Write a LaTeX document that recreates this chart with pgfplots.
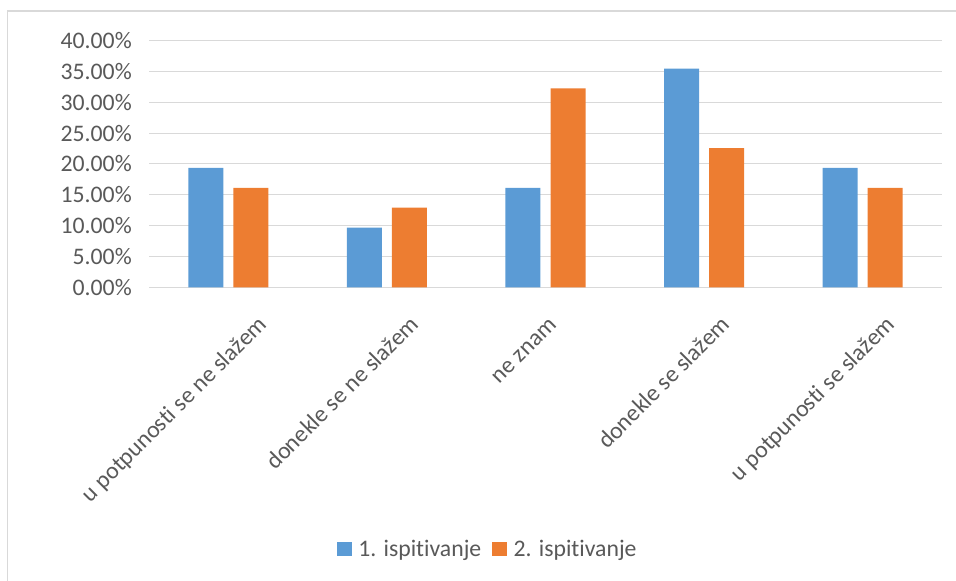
\documentclass[border=0pt]{standalone}
\usepackage{pgfplots}
\pgfplotsset{compat=1.18}
\usepackage{fontspec}
\setmainfont[Ligatures={NoCommon}]{Carlito}
\definecolor{cblue}{HTML}{5B9BD5}
\definecolor{corange}{HTML}{ED7D31}
\definecolor{cgrid}{HTML}{D9D9D9}
\definecolor{ctext}{HTML}{595959}
\newcommand\lbl{\fontsize{17.8pt}{21pt}\selectfont}
\begin{document}
\begin{tikzpicture}
\useasboundingbox (0,0) rectangle (717pt,435.75pt);
\draw[cgrid, line width=1.1pt] (5.6pt,-10pt) -- (5.6pt,427.5pt) -- (730pt,427.5pt);
\begin{axis}[
  at={(111.75pt,220.3pt)}, anchor=south west,
  scale only axis, width=594.75pt, height=184.95pt,
  ybar, bar width=26.25pt,
  xmin=-0.5, xmax=4.5, ymin=0, ymax=40,
  xtick=\empty, ytick={0,5,...,40},
  axis line style={draw=none},
  major tick length=0pt,
  ymajorgrids, grid style={cgrid, line width=0.8pt},
  /pgf/number format/assume math mode=true,
  yticklabel={\pgfmathprintnumber[fixed,fixed zerofill,precision=2]{\tick}\%},
  yticklabel style={font=\lbl, text=ctext, anchor=east, inner sep=0pt, xshift=-12.75pt},
  legend columns=2,
  legend style={at={(axis description cs:0.4275,-1.061)}, anchor=center, draw=none,
    font=\lbl, text=ctext,
    /tikz/every odd column/.append style={column sep=3pt},
    /tikz/every even column/.append style={column sep=6pt}},
  legend image code/.code={\fill[#1] (0pt,-5.4pt) rectangle (11.25pt,5.4pt);},
]
\addplot[fill=cblue, draw=none, bar shift=-16.9pt] coordinates {(0,19.35) (1,9.68) (2,16.13) (3,35.48) (4,19.35)};
\addplot[fill=corange, draw=none, bar shift=16.9pt] coordinates {(0,16.13) (1,12.90) (2,32.26) (3,22.58) (4,16.13)};
\legend{1. ispitivanje, 2. ispitivanje}
\end{axis}
\begin{scope}[every node/.style={rotate=45, anchor=base east, font=\lbl, text=ctext, inner sep=0pt}]
\node at (201pt,191.25pt) {u potpunosti se ne slažem};
\node at (315pt,191.25pt) {donekle se ne slažem};
\node at (418.5pt,191.25pt) {ne znam};
\node at (548.25pt,191.25pt) {donekle se slažem};
\node at (672pt,191.25pt) {u potpunosti se slažem};
\end{scope}
\end{tikzpicture}
\end{document}
